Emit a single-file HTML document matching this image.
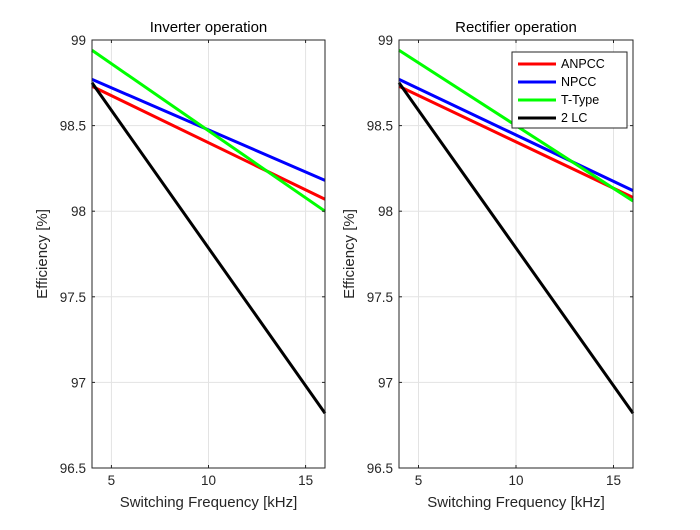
<!DOCTYPE html>
<html><head><meta charset="utf-8"><style>
body{margin:0;background:#fff;font-family:"Liberation Sans",sans-serif}
svg text{font-family:"Liberation Sans",sans-serif}
</style></head><body>
<svg id="chart" width="700" height="525" viewBox="0 0 700 525" xmlns="http://www.w3.org/2000/svg">
<rect width="700" height="525" fill="#fff"/>
</svg>
<script>
const xTicks=[5,10,15];
const yTicks=[96.5,97,97.5,98,98.5,99];
const yTickLabels=["96.5","97","97.5","98","98.5","99"];
const freqs=[4,16];
const seriesNames=["ANPCC","NPCC","T-Type","2 LC"];
const seriesColors=["#ff0000","#0000ff","#00ff00","#000000"];
const invANPCC=[98.73,98.07];
const invNPCC=[98.77,98.18];
const invTType=[98.94,98.00];
const inv2LC=[98.75,96.82];
const recANPCC=[98.73,98.08];
const recNPCC=[98.77,98.12];
const recTType=[98.94,98.06];
const rec2LC=[98.75,96.82];

const NS="http://www.w3.org/2000/svg";
const svg=document.getElementById('chart');
function mk(tag,attrs,parent){const e=document.createElementNS(NS,tag);for(const k in attrs)e.setAttribute(k,attrs[k]);(parent||svg).appendChild(e);return e;}

function panel(x0,x1,title,data,legend,key){
  const y0=40,y1=468;
  const g=mk('g',{});
  
  
  const sx=v=>x0+(v-4)/(16-4)*(x1-x0);
  const sy=v=>y1-(v-96.5)/(99-96.5)*(y1-y0);
  xTicks.forEach(t=>{const l=mk('line',{x1:sx(t),x2:sx(t),y1:y0,y2:y1,stroke:'#e3e3e3','stroke-width':1},g);
    });
  yTicks.forEach(t=>{const l=mk('line',{x1:x0,x2:x1,y1:sy(t),y2:sy(t),stroke:'#e3e3e3','stroke-width':1},g);
    });
  data.forEach((s,i)=>{
    const pts=freqs.map((f,j)=>sx(f)+','+sy(s[j])).join(' ');
    const p=mk('polyline',{points:pts,fill:'none',stroke:seriesColors[i],'stroke-width':3},g);
    
    
  });
  const b=mk('rect',{x:x0,y:y0,width:x1-x0,height:y1-y0,fill:'none',stroke:'#262626','stroke-width':1},g);
  
  xTicks.forEach(t=>{
    mk('line',{x1:sx(t),x2:sx(t),y1:y1,y2:y1-3,stroke:'#262626'},g);
    mk('line',{x1:sx(t),x2:sx(t),y1:y0,y2:y0+3,stroke:'#262626'},g);
    const tx=mk('text',{x:sx(t),y:y1+17,'font-size':13.5,fill:'#262626','text-anchor':'middle'},g);
    tx.textContent=t;
  });
  yTicks.forEach((t,i)=>{
    mk('line',{x1:x0,x2:x0+3,y1:sy(t),y2:sy(t),stroke:'#262626'},g);
    mk('line',{x1:x1,x2:x1-3,y1:sy(t),y2:sy(t),stroke:'#262626'},g);
    const tx=mk('text',{x:x0-6,y:sy(t)+5,'font-size':13.5,fill:'#262626','text-anchor':'end'},g);
    tx.textContent=yTickLabels[i];
  });
  const tt=mk('text',{x:(x0+x1)/2,y:32,'font-size':15,fill:'#000','text-anchor':'middle'},g);
  tt.textContent=title;
  const xl=mk('text',{x:(x0+x1)/2,y:507,'font-size':15,fill:'#262626','text-anchor':'middle'},g);
  xl.textContent='Switching Frequency [kHz]';
  const yl=mk('text',{x:0,y:0,'font-size':15,fill:'#262626','text-anchor':'middle',transform:`translate(${x0-45},${(y0+y1)/2}) rotate(-90)`},g);
  yl.textContent='Efficiency [%]';
  if(legend){
    const lg=mk('g',{},g);
    
    mk('rect',{x:512,y:52,width:115,height:76,fill:'#fff',stroke:'#262626','stroke-width':1},lg);
    seriesNames.forEach((n,i)=>{
      const yy=64+i*18;
      const e=mk('g',{},lg);
      
      mk('line',{x1:518,x2:556,y1:yy,y2:yy,stroke:seriesColors[i],'stroke-width':3},e);
      const t=mk('text',{x:561,y:yy+4,'font-size':12.5,fill:'#000'},e);t.textContent=n;
    });
  }
}
panel(92,325,'Inverter operation',[invANPCC,invNPCC,invTType,inv2LC],false,'inverter');
panel(399,633,'Rectifier operation',[recANPCC,recNPCC,recTType,rec2LC],true,'rectifier');
</script>
</body></html>
